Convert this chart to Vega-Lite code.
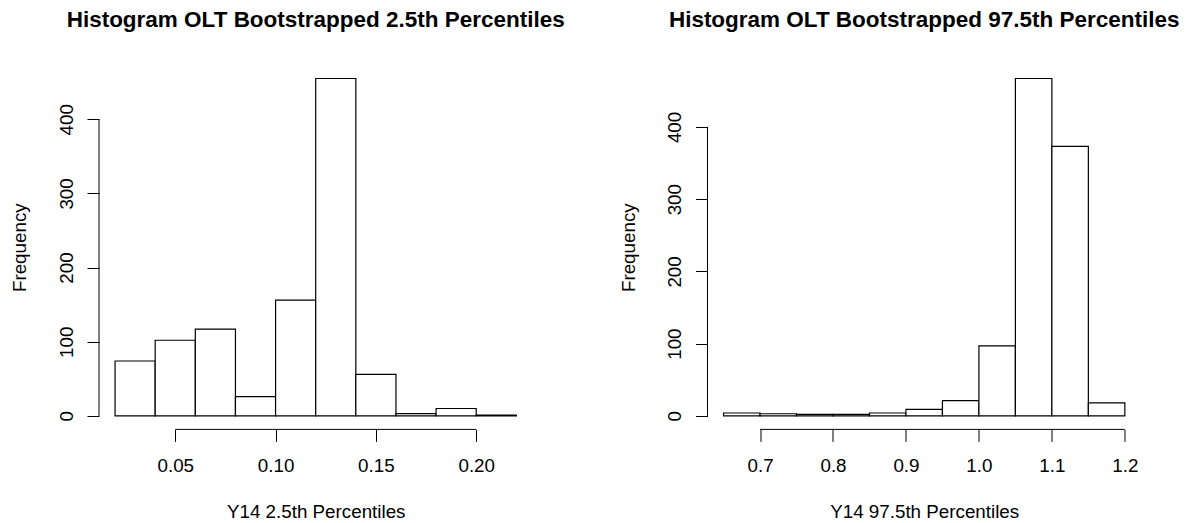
{
  "$schema": "https://vega.github.io/schema/vega-lite/v6.json",
  "padding": {"left": 10, "top": 8, "right": 0, "bottom": 6},
  "background": "white",
  "spacing": 174.5,
  "bounds": "flush",
  "datasets": {
    "left": [
      {"lo": 0.02, "hi": 0.04, "count": 74},
      {"lo": 0.04, "hi": 0.06, "count": 102},
      {"lo": 0.06, "hi": 0.08, "count": 117},
      {"lo": 0.08, "hi": 0.10, "count": 26},
      {"lo": 0.10, "hi": 0.12, "count": 156},
      {"lo": 0.12, "hi": 0.14, "count": 455},
      {"lo": 0.14, "hi": 0.16, "count": 56},
      {"lo": 0.16, "hi": 0.18, "count": 3},
      {"lo": 0.18, "hi": 0.20, "count": 10},
      {"lo": 0.20, "hi": 0.22, "count": 1}
    ],
    "right": [
      {"lo": 0.65, "hi": 0.70, "count": 4},
      {"lo": 0.70, "hi": 0.75, "count": 3},
      {"lo": 0.75, "hi": 0.80, "count": 2},
      {"lo": 0.80, "hi": 0.85, "count": 2},
      {"lo": 0.85, "hi": 0.90, "count": 4},
      {"lo": 0.90, "hi": 0.95, "count": 9},
      {"lo": 0.95, "hi": 1.00, "count": 21},
      {"lo": 1.00, "hi": 1.05, "count": 97},
      {"lo": 1.05, "hi": 1.10, "count": 467},
      {"lo": 1.10, "hi": 1.15, "count": 373},
      {"lo": 1.15, "hi": 1.20, "count": 18}
    ]
  },
  "config": {
    "font": "Liberation Sans",
    "view": {"stroke": null},
    "axis": {
      "grid": false, "domain": false, "tickColor": "black", "tickWidth": 1, "tickSize": 12,
      "labelColor": "black", "labelFontSize": 18.8, "titleFontSize": 18.8, "titleFontWeight": "normal",
      "titleColor": "black", "labelFont": "Liberation Sans", "titleFont": "Liberation Sans",
      "labelFlush": false, "labelOverlap": false
    },
    "axisX": {
      "labelBaseline": "alphabetic", "labelPadding": 29.7, "labelAngle": 0,
      "titleBaseline": "alphabetic", "titleAlign": "center", "titleY": 88.3, "titleX": 216.7
    },
    "axisY": {
      "labelAngle": 270, "labelAlign": "center", "labelBaseline": "alphabetic", "labelPadding": 14.6,
      "titleAngle": 270, "titleAlign": "center", "titleBaseline": "alphabetic", "titleX": -73.3, "titleY": 182.2
    },
    "title": {
      "fontSize": 22.5, "fontWeight": "bold", "color": "black", "anchor": "middle",
      "baseline": "alphabetic", "offset": 33.9, "font": "Liberation Sans"
    }
  },
  "hconcat": [
    {
      "width": 433.4,
      "height": 364.4,
      "title": "Histogram OLT Bootstrapped 2.5th Percentiles",
      "layer": [
        {
          "data": {"name": "left"},
          "mark": {"type": "bar", "fill": "white", "stroke": "black", "strokeWidth": 1.2},
          "encoding": {
            "x": {"field": "lo", "type": "quantitative",
                  "scale": {"domain": [0.012, 0.228], "nice": false, "zero": false},
                  "axis": {"values": [0.05, 0.1, 0.15, 0.2], "format": ".2f", "title": "Y14 2.5th Percentiles"}},
            "x2": {"field": "hi"},
            "y": {"field": "count", "type": "quantitative",
                  "scale": {"domain": [-18.2, 473.2], "nice": false, "zero": false},
                  "axis": {"values": [0, 100, 200, 300, 400], "title": "Frequency"}},
            "y2": {"datum": 0}
          }
        },
        {
          "data": {"values": [{}]},
          "mark": {"type": "rule", "color": "black", "strokeWidth": 1},
          "encoding": {
            "x": {"datum": 0.05, "type": "quantitative", "title": "Y14 2.5th Percentiles"},
            "x2": {"datum": 0.2},
            "y": {"datum": -18.2, "type": "quantitative", "title": "Frequency"}
          }
        },
        {
          "data": {"values": [{}]},
          "mark": {"type": "rule", "color": "black", "strokeWidth": 1},
          "encoding": {
            "x": {"datum": 0.012, "type": "quantitative", "title": "Y14 2.5th Percentiles"},
            "y": {"datum": 0, "type": "quantitative", "title": "Frequency"},
            "y2": {"datum": 400}
          }
        }
      ]
    },
    {
      "width": 433.4,
      "height": 364.4,
      "title": "Histogram OLT Bootstrapped 97.5th Percentiles",
      "layer": [
        {
          "data": {"name": "right"},
          "mark": {"type": "bar", "fill": "white", "stroke": "black", "strokeWidth": 1.2},
          "encoding": {
            "x": {"field": "lo", "type": "quantitative",
                  "scale": {"domain": [0.628, 1.222], "nice": false, "zero": false},
                  "axis": {"values": [0.7, 0.8, 0.9, 1.0, 1.1, 1.2], "format": ".1f", "title": "Y14 97.5th Percentiles"}},
            "x2": {"field": "hi"},
            "y": {"field": "count", "type": "quantitative",
                  "scale": {"domain": [-18.68, 485.68], "nice": false, "zero": false},
                  "axis": {"values": [0, 100, 200, 300, 400], "title": "Frequency"}},
            "y2": {"datum": 0}
          }
        },
        {
          "data": {"values": [{}]},
          "mark": {"type": "rule", "color": "black", "strokeWidth": 1},
          "encoding": {
            "x": {"datum": 0.7, "type": "quantitative", "title": "Y14 97.5th Percentiles"},
            "x2": {"datum": 1.2},
            "y": {"datum": -18.68, "type": "quantitative", "title": "Frequency"}
          }
        },
        {
          "data": {"values": [{}]},
          "mark": {"type": "rule", "color": "black", "strokeWidth": 1},
          "encoding": {
            "x": {"datum": 0.628, "type": "quantitative", "title": "Y14 97.5th Percentiles"},
            "y": {"datum": 0, "type": "quantitative", "title": "Frequency"},
            "y2": {"datum": 400}
          }
        }
      ]
    }
  ]
}
